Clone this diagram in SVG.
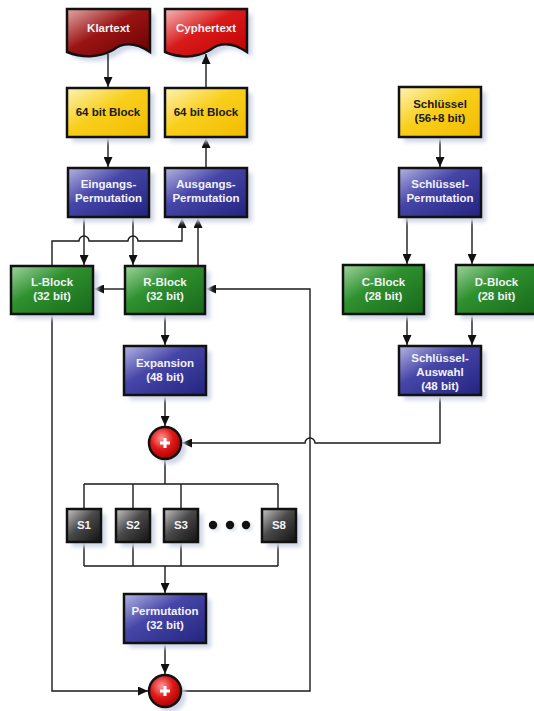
<svg xmlns="http://www.w3.org/2000/svg" width="534" height="711" viewBox="0 0 534 711">
<defs>
<linearGradient id="gy" x1="0" y1="0" x2="1" y2="1"><stop offset="0" stop-color="#fdf2b4"/><stop offset="0.45" stop-color="#f9cf1c"/><stop offset="1" stop-color="#f2bb00"/></linearGradient>
<linearGradient id="gb" x1="0" y1="0" x2="1" y2="1"><stop offset="0" stop-color="#b4b4e4"/><stop offset="0.4" stop-color="#4646a8"/><stop offset="1" stop-color="#232380"/></linearGradient>
<linearGradient id="gg" x1="0" y1="0" x2="1" y2="1"><stop offset="0" stop-color="#9ed49e"/><stop offset="0.4" stop-color="#2f912f"/><stop offset="1" stop-color="#17691a"/></linearGradient>
<linearGradient id="gk" x1="0" y1="0" x2="1" y2="1"><stop offset="0" stop-color="#c8c8c8"/><stop offset="0.45" stop-color="#4a4a4a"/><stop offset="1" stop-color="#111"/></linearGradient>
<linearGradient id="gr1" x1="0" y1="0" x2="1" y2="1"><stop offset="0" stop-color="#e4a8a8"/><stop offset="0.45" stop-color="#9a1414"/><stop offset="1" stop-color="#6a0000"/></linearGradient>
<linearGradient id="gr2" x1="0" y1="0" x2="1" y2="1"><stop offset="0" stop-color="#f6b8b8"/><stop offset="0.45" stop-color="#d81a1a"/><stop offset="1" stop-color="#c00000"/></linearGradient>
<radialGradient id="gc" cx="0.4" cy="0.35" r="0.7"><stop offset="0" stop-color="#ff9a9a"/><stop offset="0.5" stop-color="#e01818"/><stop offset="1" stop-color="#a00000"/></radialGradient>
<filter id="blur" x="-20%" y="-20%" width="140%" height="140%"><feGaussianBlur stdDeviation="2"/></filter>
<marker id="ar" markerUnits="userSpaceOnUse" markerWidth="10" markerHeight="9" refX="10" refY="4.5" orient="auto"><path d="M0,0 L10,4.5 L0,9 Z" fill="#111"/></marker>
</defs>
<style>
.sh{fill:#cfd6e6;filter:url(#blur)}
.box{stroke:#111;stroke-width:2.5}
.t{font-family:"Liberation Sans",Arial,sans-serif;font-weight:bold;font-size:11.5px;text-anchor:middle;fill:#f2f2f8}
.td{font-family:"Liberation Sans",Arial,sans-serif;font-weight:bold;font-size:11.5px;text-anchor:middle;fill:#1a1a1a}
.c{fill:none;stroke:#1a1a1a;stroke-width:1.4}
.a{marker-end:url(#ar)}
</style>
<rect width="534" height="711" fill="#ffffff"/>

<g id="klartext">
<path class="sh" d="M72,14 H155 V57 C140,47 128,47 118,55 C104,63 87,63 72,57 Z"/>
<path class="box" fill="url(#gr1)" d="M67,9 H150 V52 C135,42 123,42 113,50 C99,58 82,58 67,52 Z"/>
<text class="t" x="108.5" y="32">Klartext</text>
</g>
<g id="cyphertext">
<path class="sh" d="M170,14 H252 V57 C237,47 225,47 215,55 C201,63 185,63 170,57 Z"/>
<path class="box" fill="url(#gr2)" d="M165,9 H247 V52 C232,42 220,42 210,50 C196,58 180,58 165,52 Z"/>
<text class="t" x="206" y="32">Cyphertext</text>
</g>

<g id="connectors">
<path class="c a" d="M108,54 V87"/>
<path class="c a" d="M108,137 V167"/>
<path class="c a" d="M206,168 V138"/>
<path class="c a" d="M206,88 V54"/>
<path class="c a" d="M84,217 V265"/>
<path class="c a" d="M133,217 V265"/>
<path class="c a" d="M52,266 V241 H79 A5,5 0 0 1 89,241 H128 A5,5 0 0 1 138,241 H182 V218"/>
<path class="c a" d="M198,266 V218"/>
<path class="c a" d="M125,289 H94"/>
<path class="c a" d="M165,314 V345"/>
<path class="c a" d="M165,395 V426"/>
<path class="c" d="M165,459 V484 M84,484 H278 M84,484 V509 M133,484 V509 M181,484 V509 M278,484 V509"/>
<path class="c" d="M84,542 V566 M133,542 V566 M181,542 V566 M278,542 V566 M84,566 H278"/>
<path class="c a" d="M165,566 V593"/>
<path class="c a" d="M165,643 V674"/>
<path class="c a" d="M52,314 V691 H148"/>
<path class="c a" d="M181,691 H310 V289 H206"/>
<path class="c a" d="M440,137 V167"/>
<path class="c a" d="M407,217 V264"/>
<path class="c a" d="M472,217 V264"/>
<path class="c a" d="M407,314 V345"/>
<path class="c a" d="M472,314 V345"/>
<path class="c a" d="M440,395 V443 H315 A5,5 0 0 0 305,443 H182"/>
</g>

<g id="block64a">
<rect class="sh" x="72" y="93" width="82" height="49"/>
<rect class="box" fill="url(#gy)" x="67" y="88" width="82" height="49"/>
<text class="td" x="108" y="116">64 bit Block</text>
</g>
<g id="block64b">
<rect class="sh" x="170" y="93" width="82" height="49"/>
<rect class="box" fill="url(#gy)" x="165" y="88" width="82" height="49"/>
<text class="td" x="206" y="116">64 bit Block</text>
</g>

<g id="eingang">
<rect class="sh" x="73" y="173" width="81" height="49"/>
<rect class="box" fill="url(#gb)" x="68" y="168" width="81" height="49"/>
<text class="t" x="108.5" y="188">Eingangs-</text>
<text class="t" x="108.5" y="202">Permutation</text>
</g>
<g id="ausgang">
<rect class="sh" x="170" y="173" width="82" height="49"/>
<rect class="box" fill="url(#gb)" x="165" y="168" width="82" height="49"/>
<text class="t" x="206" y="188">Ausgangs-</text>
<text class="t" x="206" y="202">Permutation</text>
</g>

<g id="lblock">
<rect class="sh" x="16" y="271" width="82" height="48"/>
<rect class="box" fill="url(#gg)" x="11" y="266" width="82" height="48"/>
<text class="t" x="52" y="286">L-Block</text>
<text class="t" x="52" y="300">(32 bit)</text>
</g>
<g id="rblock">
<rect class="sh" x="130" y="271" width="80" height="48"/>
<rect class="box" fill="url(#gg)" x="125" y="266" width="80" height="48"/>
<text class="t" x="165" y="286">R-Block</text>
<text class="t" x="165" y="300">(32 bit)</text>
</g>

<g id="expansion">
<rect class="sh" x="129" y="351" width="82" height="49"/>
<rect class="box" fill="url(#gb)" x="124" y="346" width="82" height="49"/>
<text class="t" x="165" y="367">Expansion</text>
<text class="t" x="165" y="381">(48 bit)</text>
</g>

<g id="xor1">
<circle class="sh" cx="170" cy="448" r="16"/>
<circle class="box" fill="url(#gc)" cx="165" cy="443" r="16"/>
<path d="M160,443 H170 M165,438 V448" stroke="#fff" stroke-width="3"/>
</g>

<g id="s1">
<rect class="sh" x="72" y="514" width="34" height="33"/>
<rect class="box" fill="url(#gk)" x="67" y="509" width="34" height="33"/>
<text class="t" x="84" y="529">S1</text>
</g>
<g id="s2">
<rect class="sh" x="121" y="514" width="34" height="33"/>
<rect class="box" fill="url(#gk)" x="116" y="509" width="34" height="33"/>
<text class="t" x="133" y="529">S2</text>
</g>
<g id="s3">
<rect class="sh" x="169" y="514" width="34" height="33"/>
<rect class="box" fill="url(#gk)" x="164" y="509" width="34" height="33"/>
<text class="t" x="181" y="529">S3</text>
</g>
<g id="dots">
<circle cx="215" cy="527" r="4" fill="#cfd6e6" filter="url(#blur)"/>
<circle cx="232" cy="527" r="4" fill="#cfd6e6" filter="url(#blur)"/>
<circle cx="248" cy="527" r="4" fill="#cfd6e6" filter="url(#blur)"/>
<circle cx="213" cy="525" r="4.2" fill="#111"/>
<circle cx="230" cy="525" r="4.2" fill="#111"/>
<circle cx="246" cy="525" r="4.2" fill="#111"/>
</g>
<g id="s8">
<rect class="sh" x="267" y="514" width="34" height="33"/>
<rect class="box" fill="url(#gk)" x="262" y="509" width="34" height="33"/>
<text class="t" x="279" y="529">S8</text>
</g>

<g id="permutation">
<rect class="sh" x="129" y="599" width="82" height="49"/>
<rect class="box" fill="url(#gb)" x="124" y="594" width="82" height="49"/>
<text class="t" x="165" y="615">Permutation</text>
<text class="t" x="165" y="629">(32 bit)</text>
</g>

<g id="xor2">
<circle class="sh" cx="170" cy="696" r="16"/>
<circle class="box" fill="url(#gc)" cx="165" cy="691" r="16"/>
<path d="M160,691 H170 M165,686 V696" stroke="#fff" stroke-width="3"/>
</g>

<g id="schluessel">
<rect class="sh" x="404" y="92" width="82" height="50"/>
<rect class="box" fill="url(#gy)" x="399" y="87" width="82" height="50"/>
<text class="td" x="440" y="108">Schlüssel</text>
<text class="td" x="440" y="122">(56+8 bit)</text>
</g>
<g id="schluesselperm">
<rect class="sh" x="404" y="173" width="82" height="49"/>
<rect class="box" fill="url(#gb)" x="399" y="168" width="82" height="49"/>
<text class="t" x="440" y="188">Schlüssel-</text>
<text class="t" x="440" y="202">Permutation</text>
</g>
<g id="cblock">
<rect class="sh" x="348" y="270" width="81" height="49"/>
<rect class="box" fill="url(#gg)" x="343" y="265" width="81" height="49"/>
<text class="t" x="383.5" y="286">C-Block</text>
<text class="t" x="383.5" y="300">(28 bit)</text>
</g>
<g id="dblock">
<rect class="sh" x="461" y="270" width="81" height="49"/>
<rect class="box" fill="url(#gg)" x="456" y="265" width="81" height="49"/>
<text class="t" x="496.5" y="286">D-Block</text>
<text class="t" x="496.5" y="300">(28 bit)</text>
</g>
<g id="auswahl">
<rect class="sh" x="404" y="351" width="82" height="49"/>
<rect class="box" fill="url(#gb)" x="399" y="346" width="82" height="49"/>
<text class="t" x="440" y="362">Schlüssel-</text>
<text class="t" x="440" y="376">Auswahl</text>
<text class="t" x="440" y="390">(48 bit)</text>
</g>
</svg>
